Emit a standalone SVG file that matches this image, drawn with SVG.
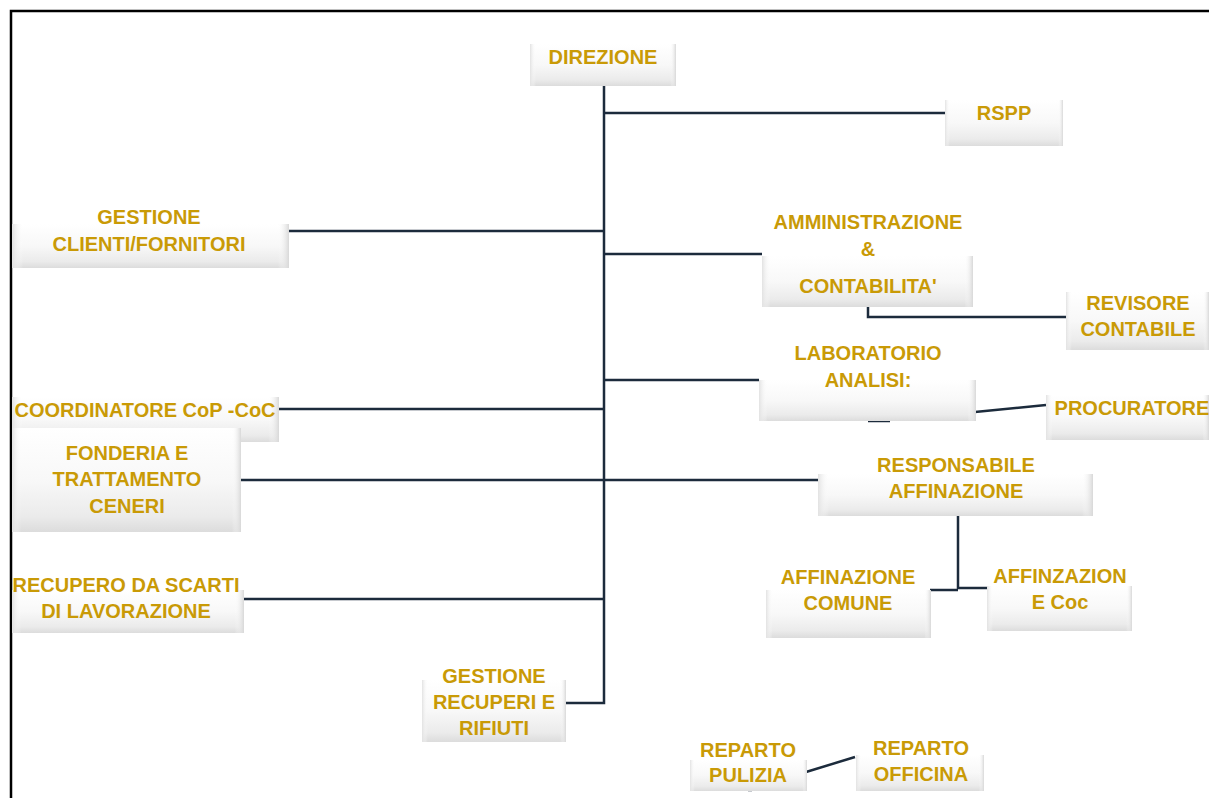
<svg xmlns="http://www.w3.org/2000/svg" width="1209" height="798" viewBox="0 0 1209 798">
<defs>
<linearGradient id="g" x1="0" y1="0" x2="0" y2="1">
<stop offset="0" stop-color="#ffffff"/>
<stop offset="0.5" stop-color="#f8f8f8"/>
<stop offset="0.85" stop-color="#ebebeb"/>
<stop offset="1" stop-color="#dcdcdc"/>
</linearGradient>
<linearGradient id="gs" x1="0" y1="0" x2="1" y2="0">
<stop offset="0" stop-color="#e2e2e2"/>
<stop offset="0.04" stop-color="#ffffff" stop-opacity="0"/>
<stop offset="0.96" stop-color="#ffffff" stop-opacity="0"/>
<stop offset="1" stop-color="#d8d8d8"/>
</linearGradient>
</defs>
<style>
.b{fill:url(#g);}
.s{fill:url(#gs);}
.t{font-family:"Liberation Sans",Arial,sans-serif;font-weight:bold;font-size:20px;fill:#C99A06;text-anchor:middle;}
.c{stroke:#1C2B3C;stroke-width:2.5;fill:none;}
</style>
<rect width="1209" height="798" fill="#ffffff"/>
<path d="M11,798 V11 H1209" stroke="#000" stroke-width="2.5" fill="none"/>
<g id="connectors">
<path class="c" d="M604,86 V703 H565"/>
<path class="c" d="M604,113 H945"/>
<path class="c" d="M289,231 H604"/>
<path class="c" d="M604,254 H762"/>
<path class="c" d="M868,307 V317 H1066"/>
<path class="c" d="M604,380 H759"/>
<path class="c" d="M279,409 H604"/>
<path class="c" d="M240,480 H818"/>
<path class="c" d="M243,599 H604"/>
<path class="c" d="M958,515 V589 M930,590 H958 M958,588 H987"/>
<path class="c" d="M975,412 L1046,405"/>
<path class="c" d="M868,421 H890"/>
<path class="c" d="M806,772 L855,757"/>
<path class="c" d="M748,790 H752"/>
</g>
<g id="n-direzione"><rect class="b" x="530" y="44" width="146" height="42"/><rect class="s" x="530" y="44" width="146" height="42"/><text class="t" x="603" y="64">DIREZIONE</text></g>
<g id="n-rspp"><rect class="b" x="945" y="100" width="118" height="46"/><rect class="s" x="945" y="100" width="118" height="46"/><text class="t" x="1004" y="120">RSPP</text></g>
<g id="n-gestione-clienti"><rect class="b" x="12" y="224" width="277" height="44"/><rect class="s" x="12" y="224" width="277" height="44"/><text class="t" x="149" y="224">GESTIONE</text><text class="t" x="149" y="251">CLIENTI/FORNITORI</text></g>
<g id="n-amministrazione"><rect class="b" x="762" y="256" width="211" height="51"/><rect class="s" x="762" y="256" width="211" height="51"/><text class="t" x="868" y="229">AMMINISTRAZIONE</text><text class="t" x="868" y="256">&amp;</text><text class="t" x="868" y="293">CONTABILITA'</text></g>
<g id="n-revisore"><rect class="b" x="1066" y="292" width="143" height="58"/><rect class="s" x="1066" y="292" width="143" height="58"/><text class="t" x="1138" y="310">REVISORE</text><text class="t" x="1138" y="336">CONTABILE</text></g>
<g id="n-laboratorio"><rect class="b" x="759" y="380" width="217" height="41"/><rect class="s" x="759" y="380" width="217" height="41"/><text class="t" x="868" y="360">LABORATORIO</text><text class="t" x="868" y="387">ANALISI:</text></g>
<g id="n-procuratore"><rect class="b" x="1046" y="395" width="163" height="45"/><rect class="s" x="1046" y="395" width="163" height="45"/><text class="t" x="1132" y="415">PROCURATORE</text></g>
<g id="n-coordinatore"><rect class="b" x="12" y="397" width="267" height="45"/><rect class="s" x="12" y="397" width="267" height="45"/><text class="t" x="145" y="417">COORDINATORE CoP -CoC</text></g>
<g id="n-fonderia"><rect class="b" x="12" y="428" width="229" height="104"/><rect class="s" x="12" y="428" width="229" height="104"/><text class="t" x="127" y="460">FONDERIA E</text><text class="t" x="127" y="486">TRATTAMENTO</text><text class="t" x="127" y="513">CENERI</text></g>
<g id="n-responsabile"><rect class="b" x="818" y="474" width="275" height="42"/><rect class="s" x="818" y="474" width="275" height="42"/><text class="t" x="956" y="472">RESPONSABILE</text><text class="t" x="956" y="498">AFFINAZIONE</text></g>
<g id="n-recupero"><rect class="b" x="12" y="590" width="232" height="43"/><rect class="s" x="12" y="590" width="232" height="43"/><text class="t" x="126" y="592">RECUPERO DA SCARTI</text><text class="t" x="126" y="618">DI LAVORAZIONE</text></g>
<g id="n-affinazione-comune"><rect class="b" x="766" y="590" width="165" height="48"/><rect class="s" x="766" y="590" width="165" height="48"/><text class="t" x="848" y="584">AFFINAZIONE</text><text class="t" x="848" y="610">COMUNE</text></g>
<g id="n-affinzazione-coc"><rect class="b" x="987" y="586" width="145" height="45"/><rect class="s" x="987" y="586" width="145" height="45"/><text class="t" x="1060" y="583">AFFINZAZION</text><text class="t" x="1060" y="609">E Coc</text></g>
<g id="n-gestione-recuperi"><rect class="b" x="422" y="680" width="144" height="62"/><rect class="s" x="422" y="680" width="144" height="62"/><text class="t" x="494" y="683">GESTIONE</text><text class="t" x="494" y="709">RECUPERI E</text><text class="t" x="494" y="735">RIFIUTI</text></g>
<g id="n-reparto-pulizia"><rect class="b" x="690" y="760" width="117" height="31"/><rect class="s" x="690" y="760" width="117" height="31"/><text class="t" x="748" y="757">REPARTO</text><text class="t" x="748" y="782">PULIZIA</text></g>
<g id="n-reparto-officina"><rect class="b" x="856" y="755" width="128" height="36"/><rect class="s" x="856" y="755" width="128" height="36"/><text class="t" x="921" y="755">REPARTO</text><text class="t" x="921" y="781">OFFICINA</text></g>
</svg>
